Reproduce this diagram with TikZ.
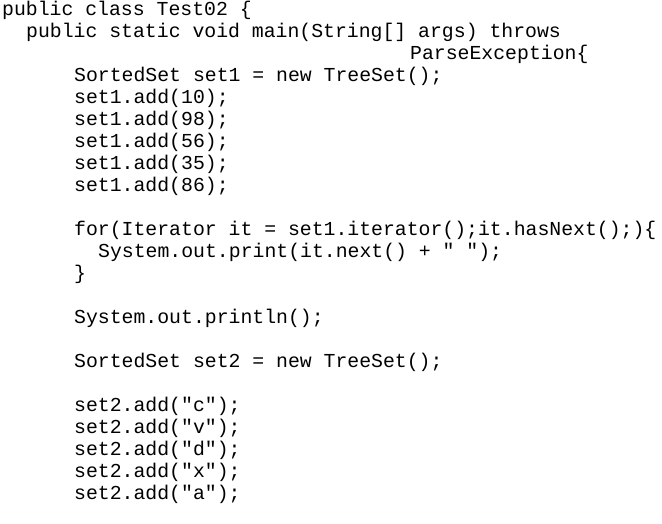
\documentclass[tikz,border=0pt]{standalone}
\usepackage{fontspec}
\setmonofont{Liberation Mono}
\begin{document}
\begin{tikzpicture}[x=1pt,y=-1pt,
  code/.style={anchor=mid west,inner sep=0pt,font=\ttfamily\fontsize{19.8}{22}\selectfont}]
\useasboundingbox (0,0) rectangle (662,523);
\begin{scope}[yshift=-3pt]
\node[code] (l1) at (2,10) {public class Test02 \{};
\node[code] (l2) at (26,32) {public static void main(String[] args) throws};
\node[code] (l3) at (410,54) {ParseException\{};
\node[code] (l4) at (74,76) {SortedSet set1 = new TreeSet();};
\node[code] (l5) at (74,98) {set1.add(10);};
\node[code] (l6) at (74,120) {set1.add(98);};
\node[code] (l7) at (74,142) {set1.add(56);};
\node[code] (l8) at (74,164) {set1.add(35);};
\node[code] (l9) at (74,186) {set1.add(86);};
\node[code] (l10) at (74,230) {for(Iterator it = set1.iterator();it.hasNext();)\{};
\node[code] (l11) at (98,252) {System.out.print(it.next() + " ");};
\node[code] (l12) at (74,274) {\}};
\node[code] (l13) at (74,318) {System.out.println();};
\node[code] (l14) at (74,362) {SortedSet set2 = new TreeSet();};
\node[code] (l15) at (74,406) {set2.add("c");};
\node[code] (l16) at (74,428) {set2.add("v");};
\node[code] (l17) at (74,450) {set2.add("d");};
\node[code] (l18) at (74,472) {set2.add("x");};
\node[code] (l19) at (74,494) {set2.add("a");};
\end{scope}
\end{tikzpicture}
\end{document}
